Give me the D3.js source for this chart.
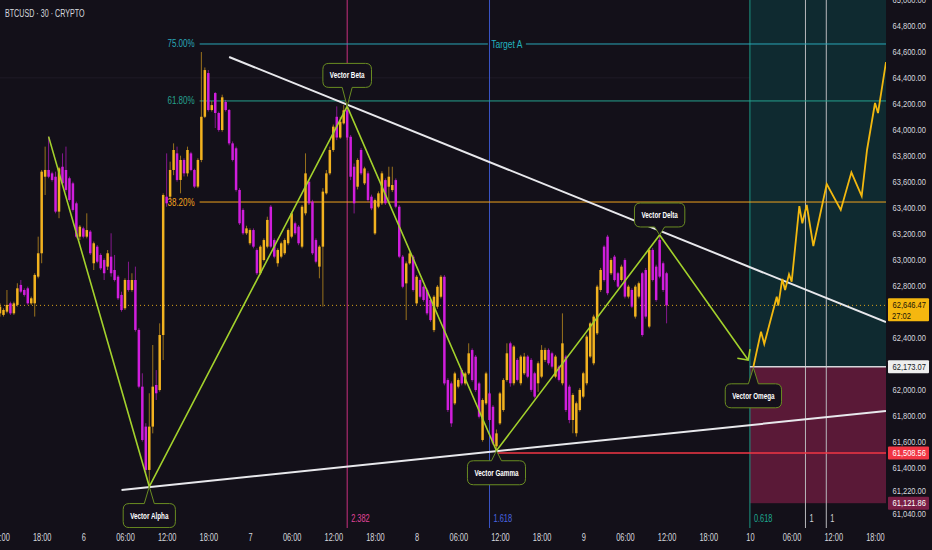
<!DOCTYPE html>
<html><head><meta charset="utf-8">
<script src="https://cdn.jsdelivr.net/npm/d3@7"></script>
<style>
html,body{margin:0;padding:0;background:#131019;overflow:hidden;}
svg{display:block;font-family:"Liberation Sans",Arial,sans-serif;}
</style></head><body>
<svg id="chart" width="932" height="550"></svg>
<script>
// ---------------- DATA ----------------
const chartTitle = "BTCUSD · 30 · CRYPTO";
const firstBarTime = "2024-10-05T12:00";   // 30-minute bars
const opens = [62585,62573,62598,62662,62585,62650,62804,62765,62778,62662,62662,62868,63048,63638,63690,63664,63638,63369,63715,63690,63626,63587,63433,63176,63240,63176,63215,62971,63099,63035,62996,62945,63022,62919,62868,62727,62624,62842,62765,62842,62457,62020,61712,61378,61712,62033,61994,62418,63484,63484,63690,63818,63613,63767,63664,63818,63690,63562,63767,64100,64437,64152,64283,64129,63998,64214,64152,63895,63857,63536,63382,63202,63125,63227,63073,62894,62996,63099,63407,63150,62971,63022,63048,63125,63176,63279,63253,63099,63356,63600,63446,63150,62945,63099,63510,63664,63844,64100,63940,64049,64150,63946,63715,63561,63844,63587,63664,63484,63201,63407,63433,63612,63561,63535,63612,63407,63022,62816,62970,63022,62662,62842,62790,62765,62688,62456,62636,62713,62867,62071,62045,61891,62020,62148,62045,62122,62302,62251,62045,61609,61891,61968,61865,61560,61737,61840,62071,62354,62046,62226,62046,62123,62252,62226,62123,62046,62097,62226,62303,62277,62097,62174,62046,62252,62020,61763,61661,61840,61943,62046,62252,62200,62431,62765,63099,63176,62894,63022,62894,62842,62996,62714,62765,62560,62714,62894,62919,62483,63074,62945,63151,62971,62894];
const highs = [62662,62624,62765,62675,62675,62817,62842,62778,62791,62714,62894,63176,63690,63870,63947,63677,63677,63715,63818,63870,63639,63600,63446,63266,63253,63356,63227,63138,63112,63048,63009,63073,63202,63035,62881,62752,62855,62983,62894,62945,62470,62123,61738,61969,62341,62148,62508,63510,63818,63754,63895,63870,63800,63780,63870,63830,63700,63780,64599,64480,64460,64220,64290,64140,64270,64230,64160,63910,63870,63550,63395,63260,63240,63240,63086,63110,63163,63330,63420,63163,63086,63138,63163,63240,63369,63292,63266,63420,63818,63613,63460,63163,63110,63550,63690,63870,64040,64180,64100,64190,64185,63960,63740,63780,63860,63715,63680,63500,63470,63525,63680,63625,63715,63715,63625,63420,63035,62985,63060,63035,62880,62855,62800,62778,62700,62725,62803,62880,62880,62085,62060,62135,62085,62160,62135,62354,62315,62264,62058,61930,62135,61980,61878,61690,61980,62085,62354,62367,62340,62240,62265,62280,62265,62240,62135,62215,62340,62320,62315,62290,62265,62185,62585,62265,62035,61970,61905,62010,62135,62420,62520,62575,62805,62935,63110,63190,63010,63035,62905,62960,63010,62805,62778,62805,62830,62905,62935,63090,63090,62960,63189,62985,62905];
const lows = [62560,62560,62585,62573,62573,62637,62740,62714,62650,62650,62560,62855,62971,63497,63626,63600,63356,63318,63574,63523,63446,63369,63163,63150,63163,63163,63035,62919,62971,62919,62842,62919,62868,62830,62688,62598,62611,62752,62752,62444,62007,61596,61352,61250,61660,61917,61981,62225,63407,63459,63650,63600,63510,63640,63640,63680,63550,63550,63750,64090,64140,64140,64013,63985,63985,64140,63880,63755,63523,63266,63190,63190,63110,63086,62880,62880,62985,63086,63086,63009,62945,63009,63035,63110,63163,63190,63110,63086,63340,63420,63035,62970,62855,62637,63500,63650,63830,63920,63930,64040,63920,63612,63355,63540,63650,63574,63445,63380,63189,63395,63420,63420,63433,63520,63395,63010,62778,62533,62960,62752,62650,62700,62675,62570,62520,62440,62620,62700,62030,61825,61710,61878,62007,62030,62030,62110,62058,61980,61775,61596,61878,61750,61570,61526,61725,61827,62058,62020,62030,62060,62030,62110,62085,61980,61930,61980,62085,62210,62185,62160,62085,62060,62030,61825,61738,61661,61635,61828,61930,62030,62240,62185,62418,62750,62830,62725,62880,62830,62780,62830,62700,62700,62625,62545,62700,62405,62545,62470,62830,62675,62855,62750,62508];
const closes = [62637,62611,62650,62585,62662,62778,62752,62727,62662,62701,62881,63048,63677,63690,63638,63613,63369,63703,63587,63536,63459,63382,63176,63253,63176,63227,63048,63125,62983,62932,62894,63048,62894,62842,62701,62611,62842,62765,62842,62457,62020,61609,61378,61712,62020,61969,62418,63497,63433,63690,63844,63613,63767,63664,63844,63690,63562,63767,64100,64460,64152,64190,64129,63998,64250,64152,63895,63767,63536,63279,63202,63240,63227,63099,62894,63099,63150,63305,63099,63022,63073,63125,63150,63227,63356,63202,63125,63407,63664,63433,63048,62983,63099,63523,63664,63844,64024,63940,64062,64150,63940,63638,63433,63767,63664,63702,63458,63394,63458,63510,63664,63433,63638,63574,63407,63022,62790,62970,63047,62765,62867,62713,62688,62585,62533,62713,62790,62867,62045,61840,61737,62122,62071,62045,62122,62277,62071,61994,61788,61917,62122,61763,61583,61660,61968,62071,62277,62046,62329,62072,62252,62252,62097,61995,61943,62200,62303,62303,62200,62174,62252,62072,62354,61840,61763,61956,61892,61995,62123,62406,62508,62560,62791,62919,62842,62740,62996,62842,62791,62945,62714,62791,62637,62791,62817,62418,62560,63074,62842,62688,62868,62765,62646.47];

// price-axis ticks (those hidden under price tags omitted) and time-axis ticks
const yTickValues = [65000,64800,64600,64400,64200,64000,63800,63600,63400,63200,63000,62800,62400,62000,61800,61600,61400,61220,61040];
const xTickTimes = ["2024-10-05T12:00","2024-10-05T18:00","2024-10-06T00:00","2024-10-06T06:00","2024-10-06T12:00","2024-10-06T18:00","2024-10-07T00:00","2024-10-07T06:00","2024-10-07T12:00","2024-10-07T18:00","2024-10-08T00:00","2024-10-08T06:00","2024-10-08T12:00","2024-10-08T18:00","2024-10-09T00:00","2024-10-09T06:00","2024-10-09T12:00","2024-10-09T18:00","2024-10-10T00:00","2024-10-10T06:00","2024-10-10T12:00","2024-10-10T18:00"];
const viewStart = "2024-10-05T12:00";
const viewEnd = "2024-10-10T19:36";

// Fibonacci levels
const fibLabels = ["75.00%","61.80%","38.20%"];
const fibValues = [64661,64222,63443];
const fibStart = "2024-10-06T16:45";
const targetLabel = "Target A";
const targetLabelTime = "2024-10-08T13:00";

// trend lines [time, value]
const upperTrend = [["2024-10-06T21:00",64561],["2024-10-10T19:36",62518]];
const lowerTrend = [["2024-10-06T05:30",61224],["2024-10-10T19:36",61832]];

// vector swing path
const swingTimes = ["2024-10-05T19:00","2024-10-06T09:30","2024-10-07T14:00","2024-10-08T11:30","2024-10-09T11:00","2024-10-09T23:45"];
const swingValues = [63947,61250,64180,61526,63189,62225];
const swingLabels = [null,"Vector Alpha","Vector Beta","Vector Gamma","Vector Delta",null];
const omegaLabel = "Vector Omega";

// projected path
const projTimes = ["2024-10-10T00:30","2024-10-10T01:36","2024-10-10T02:04","2024-10-10T03:52","2024-10-10T04:05","2024-10-10T04:40","2024-10-10T05:04","2024-10-10T05:38","2024-10-10T06:01","2024-10-10T07:07","2024-10-10T07:33","2024-10-10T08:11","2024-10-10T09:08","2024-10-10T11:04","2024-10-10T13:05","2024-10-10T14:37","2024-10-10T16:06","2024-10-10T16:52","2024-10-10T18:01","2024-10-10T18:27","2024-10-10T19:36"];
const projValues = [62173,62444,62349,62713,62644,62850,62765,62886,62829,63412,63279,63420,63104,63582,63382,63672,63489,63844,64206,64129,64522];

// vertical time markers
const markerTimes = ["2024-10-07T14:00","2024-10-08T10:30","2024-10-10T00:00","2024-10-10T08:00","2024-10-10T11:00"];
const markerLabels = ["2.382","1.618","0.618","1","1"];

// zone and price levels
const zoneStart = "2024-10-10T00:00";
const zoneTop = 62173.07;
const zoneBottom = 61121.86;
const stopLevel = 61508.56;
const lastPrice = 62646.47;
const countdown = "27:02";

// ---------------- STYLE ----------------
const W = 932, H = 550, plotR = 886, plotB = 528, labelR = 926, priceW = 33.5, priceFont = 9.2;
const C = {
  bg:"#131019", up:"#f2b21f", down:"#d01edc", text:"#d6d8de",
  teal:"#0f2a30", maroon:"#5a1937", fib:["#2aa6b8","#26a08e","#f0a21e"],
  white:"#e8e8ec", green:"#a3d12c", proj:"#f2b80f", red:"#f23645",
  markers:["#c8307e","#3a55c8","#1b9683","#b8b8bc","#b8b8bc"],
  markerText:["#e0449a","#4a66e0","#1ea890","#d0d0d4","#d0d0d4"],
  callFill:"#14101b", callStroke:"#6a8c22"
};
const NARROW = 0.74;
function condense(sel, f){
  sel.each(function(){
    const w = this.getComputedTextLength();
    if(w>0) d3.select(this).attr("textLength", w*(f||NARROW)).attr("lengthAdjust","spacingAndGlyphs");
  });
}
function fitWidth(sel, target){
  sel.each(function(){
    const w = this.getComputedTextLength();
    if(w>0) d3.select(this).attr("textLength", Math.min(w, target)).attr("lengthAdjust","spacingAndGlyphs");
  });
}

const parseT = d3.timeParse("%Y-%m-%dT%H:%M");
const x = d3.scaleTime().domain([parseT(viewStart), parseT(viewEnd)]).range([0, plotR]);
const y = d3.scaleLinear().domain([61000, 65000]).range([519, 0]);

const t0 = parseT(firstBarTime);
const bars = closes.map((c,i)=>({t:d3.timeMinute.offset(t0,30*i), o:opens[i], h:highs[i], l:lows[i], c}));

const svg = d3.select("#chart");
svg.append("rect").attr("width",W).attr("height",H).attr("fill",C.bg);
svg.append("defs").append("clipPath").attr("id","plot").append("rect").attr("width",plotR).attr("height",plotB);
const g = svg.append("g").attr("clip-path","url(#plot)");

// faint grid line
g.append("line").attr("x1",0).attr("x2",plotR).attr("y1",y(64400)).attr("y2",y(64400)).attr("stroke","#1f1a27").attr("stroke-width",1);

// zones
const zx = x(parseT(zoneStart));
g.append("rect").attr("x",zx).attr("y",0).attr("width",plotR-zx).attr("height",y(zoneTop)).attr("fill",C.teal);
g.append("rect").attr("x",zx).attr("y",y(zoneTop)).attr("width",plotR-zx).attr("height",y(zoneBottom)-y(zoneTop)).attr("fill",C.maroon);

// vertical markers
markerTimes.forEach((t,i)=>{
  const mx = x(parseT(t));
  g.append("line").attr("x1",mx).attr("x2",mx).attr("y1",0).attr("y2",plotB).attr("stroke",C.markers[i]).attr("stroke-width",1);
  condense(g.append("text").attr("x",mx+4).attr("y",518).attr("dy","0.35em").attr("fill",C.markerText[i]).attr("font-size",10).text(markerLabels[i]));
});

// fib levels
const fx = x(parseT(fibStart));
fibValues.forEach((v,i)=>{
  const fy = y(v);
  if(i===0){
    const tc = x(parseT(targetLabelTime));
    condense(g.append("text").attr("x",tc).attr("y",fy).attr("dy","0.35em").attr("text-anchor","middle").attr("fill","#22b2bf").attr("font-size",11.5).text(targetLabel));
    g.append("line").attr("x1",fx).attr("x2",tc-19).attr("y1",fy).attr("y2",fy).attr("stroke",C.fib[i]).attr("stroke-width",1);
    g.append("line").attr("x1",tc+19).attr("x2",plotR).attr("y1",fy).attr("y2",fy).attr("stroke",C.fib[i]).attr("stroke-width",1);
  } else {
    g.append("line").attr("x1",fx).attr("x2",plotR).attr("y1",fy).attr("y2",fy).attr("stroke",C.fib[i]).attr("stroke-width",1);
  }
  condense(g.append("text").attr("x",fx-5).attr("y",fy).attr("dy","0.35em").attr("text-anchor","end").attr("fill",C.fib[i]).attr("font-size",10).text(fibLabels[i]), 0.8);
});

// current price dotted line
g.append("line").attr("x1",0).attr("x2",plotR).attr("y1",y(lastPrice)).attr("y2",y(lastPrice)).attr("stroke","#d9a21c").attr("stroke-width",1).attr("stroke-dasharray","1,3");

// candles
const bw = 2.5;
const cg = g.append("g");
cg.selectAll("line.w").data(bars).join("line").attr("class","w")
  .attr("x1",d=>x(d.t)).attr("x2",d=>x(d.t)).attr("y1",d=>y(d.h)).attr("y2",d=>y(d.l))
  .attr("stroke",d=>d.c>=d.o?C.up:C.down).attr("stroke-opacity",0.6).attr("stroke-width",1);
cg.selectAll("rect.b").data(bars).join("rect").attr("class","b")
  .attr("x",d=>x(d.t)-bw/2).attr("width",bw)
  .attr("y",d=>y(Math.max(d.o,d.c))).attr("height",d=>Math.max(1,Math.abs(y(d.o)-y(d.c))))
  .attr("fill",d=>d.c>=d.o?C.up:C.down);

// red stop line from gamma
g.append("line").attr("x1",x(parseT(swingTimes[3]))).attr("x2",plotR).attr("y1",y(stopLevel)).attr("y2",y(stopLevel)).attr("stroke",C.red).attr("stroke-width",1.3);
// zone top line
g.append("line").attr("x1",zx).attr("x2",plotR).attr("y1",y(zoneTop)).attr("y2",y(zoneTop)).attr("stroke","#d6d6da").attr("stroke-width",1.5);

// trend lines
const tl = d3.line().x(d=>x(parseT(d[0]))).y(d=>y(d[1]));
g.append("path").attr("d",tl(upperTrend)).attr("stroke",C.white).attr("stroke-width",2).attr("fill","none");
g.append("path").attr("d",tl(lowerTrend)).attr("stroke",C.white).attr("stroke-width",2).attr("fill","none");

// swing path
const swing = swingTimes.map((t,i)=>[x(parseT(t)), y(swingValues[i])]);
g.append("path").attr("d",d3.line()(swing)).attr("stroke",C.green).attr("stroke-width",1.6).attr("fill","none");
(function(){
  const a = swing[swing.length-1], b = swing[swing.length-2];
  const ang = Math.atan2(b[1]-a[1], b[0]-a[0]);
  const L = 11, s = Math.PI/4;
  const p1 = [a[0]+L*Math.cos(ang-s), a[1]+L*Math.sin(ang-s)];
  const p2 = [a[0]+L*Math.cos(ang+s), a[1]+L*Math.sin(ang+s)];
  g.append("path").attr("d",`M${p1}L${a}L${p2}`).attr("stroke",C.green).attr("stroke-width",1.6).attr("fill","none");
})();

// projected path
g.append("path").attr("d",d3.line()(projTimes.map((t,i)=>[x(parseT(t)),y(projValues[i])])))
  .attr("stroke",C.proj).attr("stroke-width",1.8).attr("fill","none").attr("stroke-linejoin","miter");

// callouts
function callout(text, ax, ay, side, gap){
  const grp = g.append("g");
  const t = grp.append("text").attr("font-size",8.5).attr("font-weight","bold").attr("fill","#ffffff").attr("text-anchor","middle").text(text);
  const tw = t.node().getComputedTextLength()*0.74;
  t.attr("textLength",tw).attr("lengthAdjust","spacingAndGlyphs");
  const w = tw + 14, h = 24, r = 6;
  const cx = ax;
  const x0 = cx - w/2;
  const y0 = side==="below" ? ay + gap : ay - gap - h;
  const nb = 5;
  let p;
  if(side==="below"){
    p = `M${x0+r},${y0} L${cx-nb},${y0} L${ax},${ay} L${cx+nb},${y0} L${x0+w-r},${y0} Q${x0+w},${y0} ${x0+w},${y0+r} L${x0+w},${y0+h-r} Q${x0+w},${y0+h} ${x0+w-r},${y0+h} L${x0+r},${y0+h} Q${x0},${y0+h} ${x0},${y0+h-r} L${x0},${y0+r} Q${x0},${y0} ${x0+r},${y0} Z`;
  } else {
    p = `M${x0+r},${y0} L${x0+w-r},${y0} Q${x0+w},${y0} ${x0+w},${y0+r} L${x0+w},${y0+h-r} Q${x0+w},${y0+h} ${x0+w-r},${y0+h} L${cx+nb},${y0+h} L${ax},${ay} L${cx-nb},${y0+h} L${x0+r},${y0+h} Q${x0},${y0+h} ${x0},${y0+h-r} L${x0},${y0+r} Q${x0},${y0} ${x0+r},${y0} Z`;
  }
  grp.insert("path","text").attr("d",p).attr("fill",C.callFill).attr("stroke",C.callStroke).attr("stroke-width",1);
  t.attr("x",cx).attr("y",y0+h/2).attr("dy","0.35em");
}
const calloutSide = [null,"below","above","below","above",null];
const calloutGap = [0,17,19,10,8,0];
swingLabels.forEach((lab,i)=>{ if(lab) callout(lab, swing[i][0], swing[i][1], calloutSide[i], calloutGap[i]); });
callout(omegaLabel, x(parseT(projTimes[0])), y(projValues[0])+1, "below", 16);

// title
condense(svg.append("text").attr("x",5).attr("y",13).attr("dy","0.35em").attr("fill",C.text).attr("font-size",10.5).text(chartTitle), 0.68);

// axes
const yAxis = d3.axisRight(y).tickValues(yTickValues).tickSize(0).tickPadding(6).tickFormat(d3.format(",.2f"));
const ya = svg.append("g").attr("transform",`translate(${plotR},0)`).call(yAxis);
ya.select(".domain").remove();
ya.selectAll("text").attr("fill",C.text).attr("font-size",priceFont).attr("font-family",null)
  .attr("x", labelR-plotR).attr("text-anchor","end");
fitWidth(ya.selectAll("text"), priceW);

const xFmt = d => d.getHours()===0 ? d3.timeFormat("%-d")(d) : d3.timeFormat("%H:%M")(d);
const xAxis = d3.axisBottom(x).tickValues(xTickTimes.map(parseT)).tickSize(0).tickPadding(6).tickFormat(xFmt);
const xa = svg.append("g").attr("transform",`translate(0,${plotB})`).call(xAxis);
xa.select(".domain").remove();
xa.selectAll("text").attr("fill",C.text).attr("font-size",10).attr("font-family",null);
condense(xa.selectAll("text"));

// price tags
function tag(v, bg, fg, lines){
  const ty = y(v);
  const h = lines.length===2 ? 23 : 13;
  const top = lines.length===2 ? ty-7 : ty-h/2;
  svg.append("rect").attr("x",888).attr("y",top).attr("width",41).attr("height",h).attr("fill",bg).attr("rx",1);
  lines.forEach((s,k)=>{
    const t = svg.append("text").attr("y",top+6.5+k*10.5).attr("dy","0.35em").attr("fill",fg).attr("font-size",priceFont).text(s);
    if(k===0){ t.attr("x",labelR).attr("text-anchor","end"); fitWidth(t, priceW); }
    else { t.attr("x",892); condense(t, 0.82); }
  });
}
const f2 = d3.format(",.2f");
tag(lastPrice, "#f5b70f", "#1a1408", [f2(lastPrice), countdown]);
tag(zoneTop, "#eeeeee", "#131722", [f2(zoneTop)]);
tag(stopLevel, C.red, "#ffffff", [f2(stopLevel)]);
tag(zoneBottom, "#7a1f46", "#ffffff", [f2(zoneBottom)]);
</script>
</body></html>
